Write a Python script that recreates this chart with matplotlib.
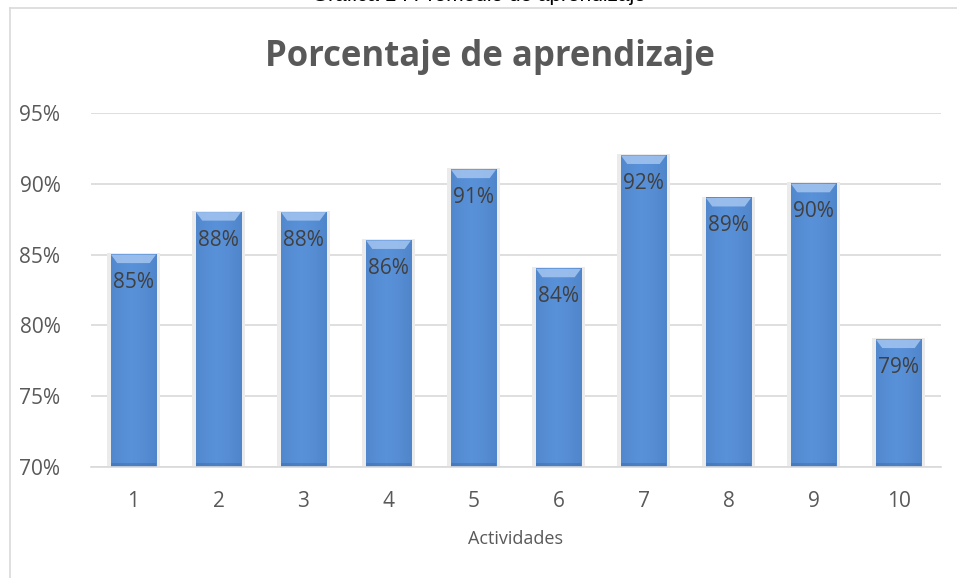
import numpy as np
import matplotlib
matplotlib.use("Agg")
from matplotlib import pyplot as plt
from matplotlib.lines import Line2D
from matplotlib.patches import Rectangle, Polygon

actividades = ["1", "2", "3", "4", "5", "6", "7", "8", "9", "10"]
porcentajes = [0.85, 0.88, 0.88, 0.86, 0.91, 0.84, 0.92, 0.89, 0.90, 0.79]
y_ticks = [0.70, 0.75, 0.80, 0.85, 0.90, 0.95]

plt.rcParams['font.family'] = ['Open Sans', 'DejaVu Sans']

fig = plt.figure(figsize=(9.57, 5.78), dpi=100)
ax = fig.add_axes([91/957, 1-467/578, 850/957, 354/578])

ymin, ymax = 0.70, 0.95
width = 0.53
x = np.arange(len(actividades))

# horizontal gradient to fake the 3D bar look
grad = np.linspace(0, 1, 64)
shade = 1 - 0.55 * np.abs(grad - 0.45) ** 1.3
base = np.array([0.35, 0.57, 0.85])
dark = np.array([0.20, 0.38, 0.62])
rgb = dark[None, :] + (base - dark)[None, :] * shade[:, None] / shade.max()
img = rgb[None, :, :]

for xi, v in zip(x, porcentajes):
    # soft shadow
    ax.add_patch(Rectangle((xi - width/2 - 0.05, ymin), width + 0.1, v - ymin + 0.001,
                           facecolor="#ebebeb", edgecolor="none", zorder=1.5))
    ax.imshow(img, extent=(xi - width/2, xi + width/2, ymin, v), aspect="auto",
              interpolation="bicubic", zorder=2)
    # darker foot of the bar
    ax.add_patch(Rectangle((xi - width/2, ymin), width, 0.003,
                           facecolor="#2f5a94", edgecolor="none", alpha=0.3, zorder=2.5))
    # top bevel
    b = width * 0.14
    ax.add_patch(Polygon([(xi - width/2, v), (xi + width/2, v),
                          (xi + width/2 - b, v - 0.006), (xi - width/2 + b, v - 0.006)],
                         closed=True, facecolor="#a9c9f2", edgecolor="none",
                         alpha=0.8, zorder=2.5))
    ax.annotate(f"{int(round(v*100))}%", (xi, v), xytext=(0, -28),
                textcoords="offset pixels", ha="center", va="center",
                fontsize=15, color="#404040", zorder=3)

ax.set_xlim(-0.5, len(actividades) - 0.5)
ax.set_ylim(ymin, ymax)
ax.set_yticks(y_ticks)
ax.set_yticklabels([f"{int(round(t*100))}%" for t in y_ticks])
ax.set_xticks(x)
ax.set_xticklabels(actividades)
ax.tick_params(axis="both", length=0, labelsize=15, labelcolor="#595959")
ax.tick_params(axis="y", pad=22)
ax.tick_params(axis="x", pad=17)
ax.grid(axis="y", color="#d9d9d9", linewidth=1.2, zorder=0)
ax.set_axisbelow(True)
for s in ["top", "right", "left"]:
    ax.spines[s].set_visible(False)
ax.spines["bottom"].set_color("#d9d9d9")
ax.spines["bottom"].set_linewidth(1.2)
ax.set_xlabel("Actividades", fontsize=13, color="#595959", labelpad=13)

# chart title, centred on the whole chart area rather than the plot
fig.text(490/957, 1 - 57/578, "Porcentaje de aprendizaje", ha="center", va="center",
         fontsize=25, fontweight="bold", color="#595959")

# chart border and document caption cut at the top
fig.add_artist(Line2D([10/957, 10/957], [0, 1-8/578], color="#d9d9d9", lw=1.2))
fig.add_artist(Line2D([10/957, 1], [1-8/578, 1-8/578], color="#d9d9d9", lw=1.2))
fig.text(0.5, 1 + 4/578, "Gráfica 1 : Promedio de aprendizaje", ha="center", va="center",
         fontsize=15, color="#000000", family=["Liberation Sans", "DejaVu Sans"])

fig.savefig("out.png", dpi=100)
